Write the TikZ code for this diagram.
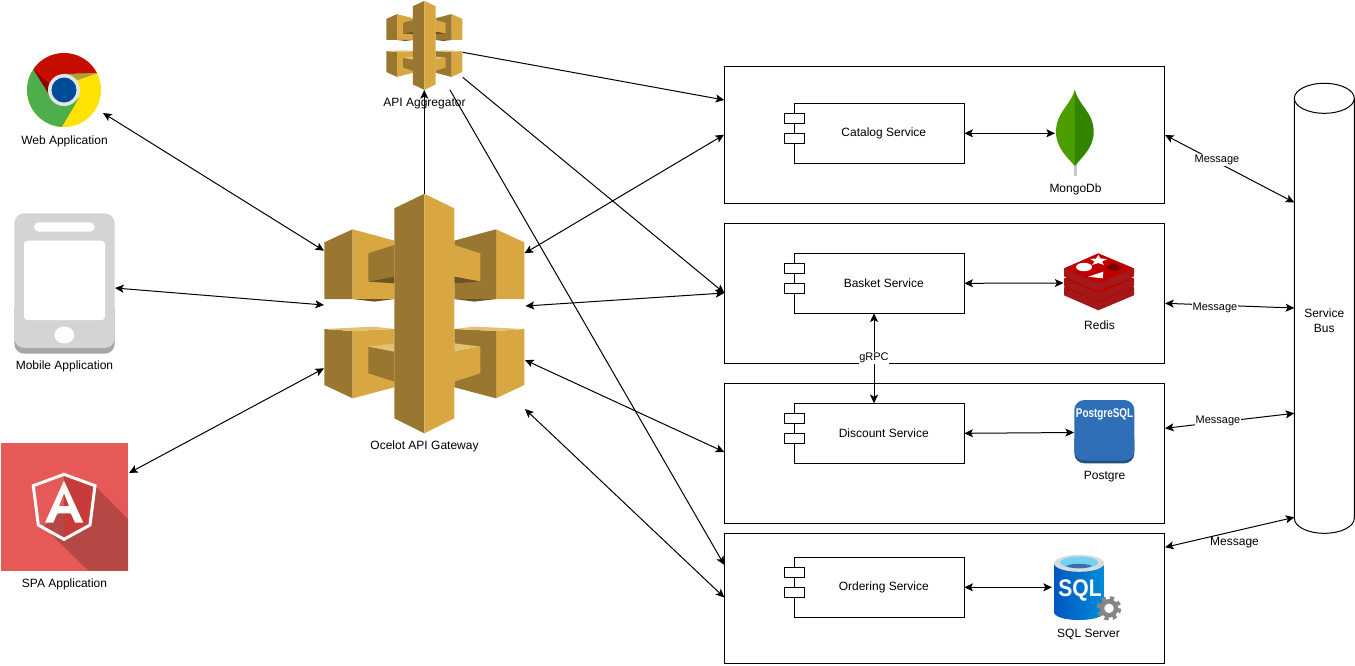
\documentclass[tikz,border=0pt]{standalone}
\usepackage{fontspec}
\setmainfont{Liberation Sans}
\usetikzlibrary{arrows.meta}
\definecolor{gwdark}{HTML}{9A7730}
\definecolor{gwlight}{HTML}{D8A741}
\definecolor{gwshadow}{HTML}{6E5323}
\definecolor{gwtop}{HTML}{E3C171}
\tikzset{
 lbl/.style={font=\fontsize{9}{10.8}\selectfont,inner sep=0pt,align=center},
 msg/.style={font=\fontsize{8.25}{9.9}\selectfont,fill=white,inner sep=.5pt},
 svcbox/.style={draw=black,line width=.75pt,minimum width=330.5pt,inner sep=0pt,outer sep=0pt},
 comp/.style={draw=black,line width=.75pt,fill=white,minimum width=127.5pt,minimum height=45pt,inner sep=0pt,outer sep=0pt,font=\fontsize{9}{10.8}\selectfont,execute at begin node=\hspace*{6.75pt}},
 port/.style={draw=black,line width=.75pt,fill=white,minimum width=15pt,minimum height=7.5pt,inner sep=0pt},
 link/.style={line width=.75pt,-{Stealth[length=6.5pt,width=6pt,inset=1.5pt]}},
 biarrow/.style={line width=.75pt,{Stealth[length=6.5pt,width=6pt,inset=1.5pt]}-{Stealth[length=6.5pt,width=6pt,inset=1.5pt]}}
}
% one half of the gateway icon: outer colour, inner colour
\newcommand{\gwhalf}[2]{
\fill[#1] (-100,-71)--(-71.7,-84)--(-71.7,-14.3)--(-100,-14.3)--cycle;
\fill[#2] (-71.7,-84)--(-30,-72.7)--(-30,-14.3)--(-71.7,-14.3)--cycle;
\fill[#1] (-56,-60)--(-30,-68.3)--(-30,-36.7)--(-56,-31.7)--cycle;
\fill[gwshadow] (-56,-31.7)--(-30,-36.7)--(-30,-30)--cycle;
\fill[gwshadow] (-71.7,-14.3)--(-50,-11.7)--(-30,-14.3)--cycle;
\fill[#1] (-100,15.7)--(-71.7,17.7)--(-71.7,85)--(-100,71.7)--cycle;
\fill[#2] (-71.7,17.7)--(-30,15.7)--(-30,74)--(-71.7,85)--cycle;
\fill[gwtop] (-100,15.7)--(-50,13.3)--(-30,15.7)--(-71.7,17.7)--cycle;
\fill[#1] (-56,33.3)--(-30,38.3)--(-30,68.3)--(-56,60)--cycle;
\fill[gwtop] (-56,33.3)--(-30,30)--(-30,38.3)--cycle;
}
% gateway icon: x, y, xscale, yscale
\newcommand{\gwicon}[4]{
\begin{scope}[shift={(#1,#2)},xscale=#3,yscale=#4]
\gwhalf{gwdark}{gwlight}
\begin{scope}[xscale=-1]
\gwhalf{gwlight}{gwdark}
\end{scope}
\fill[gwdark] (0,-119.5)--(-30,-105)--(-30,105)--(0,120)--cycle;
\fill[gwlight] (0,-119.5)--(30,-105)--(30,105)--(0,120)--cycle;
\end{scope}
}
\newcommand{\redislayer}[1]{
\fill[red!60!black!90!white] (1064,{268.3+#1})--(1064,{276.3+#1})--(1098.3,{291.3+#1})--(1134,{276.3+#1})--(1134,{268.3+#1})--cycle;
\fill[red!75!black] (1064,{268.3+#1})--(1098.3,{253.3+#1})--(1134,{268.3+#1})--(1098.3,{283.3+#1})--cycle;
}
\begin{document}
\begin{tikzpicture}[x=.75pt,y=-.75pt]
\useasboundingbox (0,0) rectangle (1355,665);
% web client
\begin{scope}
\clip (64,90) circle[radius=37];
\fill[yellow!85!orange] (20,45) rectangle (110,135);
\fill[red!75!black!90!orange] (33.3,69.3)--(20,40)--(110,40)--(96.7,73.3)--(64,74)--(48.3,93.3)--cycle;
\fill[green!55!black!70!white] (33.3,69.3)--(48.3,93.3)--(78.3,98.3)--(61.7,126.7)--(20,135)--(20,69)--cycle;
\fill[red!55!black] (33.3,69.3)--(48.3,93.3)--(50,85)--cycle;
\fill[yellow!60!black!90!orange] (64,74)--(96.7,73.3)--(78,80)--cycle;
\fill[green!45!black!80!white] (78.3,98.3)--(61.7,126.7)--(73,108)--cycle;
\end{scope}
\fill[black!10] (64,90) circle[radius=16];
\fill[blue!50!cyan!60!black] (64,90) circle[radius=12.5];
\node[lbl] (webapp) at (64.5,141.5) {Web Application};
\coordinate (webport) at (103,113);
% mobile client
\fill[black!35,rounded corners=7.5pt] (14.3,300) rectangle (114.7,353.7);
\fill[black!17,rounded corners=7.5pt] (14.3,213.3) rectangle (114.7,348);
\fill[white,rounded corners=2.5pt] (24,240.7) rectangle (105,320);
\fill[white,rounded corners=3.5pt] (34,222.3) rectangle (94.7,231.7);
\fill[white] (64.3,335) ellipse[x radius=10,y radius=8.5];
\node[lbl] (mobileapp) at (64.5,366.5) {Mobile Application};
\coordinate (mobileport) at (115,288);
% spa client
\definecolor{ngred}{HTML}{E55A56}
\definecolor{ngshade}{HTML}{B54745}
\definecolor{ngdark}{HTML}{C73B3A}
\fill[ngred] (0.7,443.3) rectangle (128,570.7);
\fill[ngshade] (95,485.7)--(128,519.3)--(128,570.7)--(88.3,570.7)--(43.3,526.7)--cycle;
\fill[ngdark] (64,474.3)--(95,485.7)--(90,525)--(64,539.3)--cycle;
\draw[white,line width=2.25pt,line join=miter] (64,474.3)--(95,485.7)--(90,525)--(64,539.3)--(38.3,525)--(33.3,485.7)--cycle;
\fill[white,even odd rule] (64,480.7)--(83.3,522.7)--(75.3,522.7)--(70.7,513.3)--(57.3,513.3)--(53.3,522.7)--(45,522.7)--cycle (64,493.3)--(69,506)--(59,506)--cycle;
\node[lbl] (spaapp) at (64.5,584.5) {SPA Application};
\coordinate (spaport) at (129,473);
% gateway and aggregator
\gwicon{424.3}{313.3}{1}{1}
\gwicon{424.3}{45.3}{.38}{.372}
\node[lbl] (gateway) at (424.5,446) {Ocelot API Gateway};
\node[lbl] (aggregator) at (424.5,104) {API Aggregator};
\coordinate (gwweb) at (324,250.7);
\coordinate (gwmobile) at (324,305);
\coordinate (gwspa) at (324,368.3);
\coordinate (gwup) at (424.3,193.5);
\coordinate (gwcatalog) at (524.5,253.3);
\coordinate (gwbasket) at (525.5,306);
\coordinate (gwdiscount) at (525,360);
\coordinate (gwordering) at (525,409);
\coordinate (aggin) at (424.3,90);
\coordinate (aggcatalog) at (462.7,52.3);
\coordinate (aggbasket) at (462.7,77.3);
\coordinate (aggordering) at (450,90);
% services
\node[svcbox,minimum height=103pt] (catalogbox) at (944.4,134.7) {};
\node[svcbox,minimum height=105pt] (basketbox) at (944.4,293.3) {};
\node[svcbox,minimum height=105pt] (discountbox) at (944.4,453.3) {};
\node[svcbox,minimum height=97.5pt] (orderingbox) at (944.4,598.3) {};
\node[comp] (catalog) at (879.3,133.3) {Catalog Service};
\node[port] (catalogpa) at (794.3,118.3) {};
\node[port] (catalogpb) at (794.3,138.3) {};
\node[comp] (basket) at (879.3,283.3) {Basket Service};
\node[port] (basketpa) at (794.3,268.3) {};
\node[port] (basketpb) at (794.3,288.3) {};
\node[comp] (discount) at (879.3,433.3) {Discount Service};
\node[port] (discountpa) at (794.3,418.3) {};
\node[port] (discountpb) at (794.3,438.3) {};
\node[comp] (ordering) at (879.3,587.3) {Ordering Service};
\node[port] (orderingpa) at (794.3,572.3) {};
\node[port] (orderingpb) at (794.3,592.3) {};
\coordinate (catalogagg) at (724.3,100);
\coordinate (catalogbus) at (1165,135);
\coordinate (basketin) at (724.3,293);
\coordinate (basketbus) at (1165,303.3);
\coordinate (discountin) at (724.3,452);
\coordinate (discountbus) at (1165,428.3);
\coordinate (orderingagg) at (724.3,565);
\coordinate (orderinggw) at (724.3,597.5);
\coordinate (orderingbus) at (1165,547.3);
\coordinate (basketrpc) at (874,313.3);
\coordinate (discountrpc) at (874,403.3);
% mongo
\fill[black!22] (1074,160) rectangle (1076.5,176);
\fill[green!45!black!70!yellow] (1074.8,89.5) .. controls (1071,105) and (1056,112) .. (1056,132) .. controls (1056,148) and (1068,158) .. (1074.8,166) -- cycle;
\fill[green!40!black!80!yellow] (1074.8,89.5) .. controls (1078,105) and (1093.7,112) .. (1093.7,132) .. controls (1093.7,148) and (1081,158) .. (1074.8,166) -- cycle;
\node[lbl] (mongolbl) at (1075.5,189.5) {MongoDb};
\coordinate (mongo) at (1055,133.3);
% redis
\redislayer{19}
\redislayer{10}
\redislayer{0}
\fill[white] (1084,267) ellipse[x radius=8,y radius=4.2];
\fill[white] (1098.3,255)--(1100.5,258.5)--(1107,259)--(1102,261.5)--(1104,265)--(1098.3,263)--(1092,265)--(1094.5,261.5)--(1090,259)--(1096,258.5)--cycle;
\fill[white] (1088.3,276.7)--(1103.3,271.7)--(1102.7,278.3)--cycle;
\fill[red!50!black] (1105,267.3)--(1114,263.3)--(1123.3,267.3)--(1114,271.7)--cycle;
\node[lbl] (redislbl) at (1099.5,325.5) {Redis};
\coordinate (redis) at (1063.5,283);
% postgres
\definecolor{pgblue}{HTML}{2F6FB7}
\definecolor{pgdark}{HTML}{23507F}
\fill[pgdark,rounded corners=7.5pt] (1074.3,430) rectangle (1134.3,463.3);
\fill[pgblue,rounded corners=7.5pt] (1074.3,400) rectangle (1134.3,460.5);
\node[text=white,font=\fontsize{9.5}{11}\bfseries\selectfont,inner sep=0pt] (pgtext) at (1104.5,414.5) {\scalebox{.78}[1]{PostgreSQL}};
\node[lbl] (pglbl) at (1104.5,476.5) {Postgre};
\coordinate (postgres) at (1074,432.5);
% sql server
\shade[left color=blue!55!cyan!75!black,right color=blue!35!cyan!85!black] (1054,563.3)--(1054,612) .. controls (1054,617) and (1066,620) .. (1079,620) .. controls (1092,620) and (1104.3,617) .. (1104.3,612)--(1104.3,563.3)--cycle;
\fill[black!14] (1079.1,563.3) ellipse[x radius=25.1,y radius=8.5];
\fill[cyan!55!white] (1079.1,562.5) ellipse[x radius=19,y radius=6];
\fill[cyan!60!blue!75!black] (1066,566) .. controls (1072,563) and (1086,563) .. (1092,566) .. controls (1086,569) and (1072,569) .. (1066,566) -- cycle;
\node[text=white,font=\fontsize{18}{20}\bfseries\selectfont,inner sep=0pt] (sqltext) at (1080,590) {\scalebox{.88}[1]{SQL}};
\draw[black!48,line width=3.4pt,dash pattern=on 3pt off 2.95pt] (1109,608.3) circle[radius=10];
\draw[black!48,line width=3.4pt,fill=white] (1109,608.3) circle[radius=7];
\node[lbl] (sqllbl) at (1088.5,634.5) {SQL Server};
\coordinate (sqlserver) at (1052,587.3);
% bus
\draw[line width=.75pt] (1294.3,98.3)--(1294.3,518.3) .. controls (1294.3,526.6) and (1307.7,533.3) .. (1324.3,533.3) .. controls (1341,533.3) and (1354.3,526.6) .. (1354.3,518.3)--(1354.3,98.3);
\draw[line width=.75pt] (1324.3,98.3) ellipse[x radius=30,y radius=15];
\node[lbl,font=\fontsize{9}{11.25}\selectfont] (bus) at (1324.3,321) {Service\\Bus};
\coordinate (buscatalog) at (1294.3,202.5);
\coordinate (busbasket) at (1294.3,308);
\coordinate (busdiscount) at (1294.3,413.3);
\coordinate (busordering) at (1294.3,517.3);
% connectors
\draw[biarrow] (webport)--(gwweb);
\draw[biarrow] (mobileport)--(gwmobile);
\draw[biarrow] (spaport)--(gwspa);
\draw[link] (gwup)--(aggin);
\draw[link] (aggcatalog)--(catalogagg);
\draw[link] (aggbasket)--(basketin);
\draw[link] (aggordering)--(orderingagg);
\draw[biarrow] (gwcatalog)--(catalogbox.west);
\draw[biarrow] (gwbasket)--(basketin);
\draw[biarrow] (gwdiscount)--(discountin);
\draw[biarrow] (gwordering)--(orderinggw);
\draw[biarrow] (catalog.east)--(mongo);
\draw[biarrow] (basket.east)--(redis);
\draw[biarrow] (discount.east)--(postgres);
\draw[biarrow] (ordering.east)--(sqlserver);
\draw[biarrow] (basketrpc)--(discountrpc);
\node[msg] (rpclbl) at (874,358) {gRPC};
\draw[biarrow] (catalogbus)--(buscatalog);
\node[msg] (msgcatalog) at (1217,160) {Message};
\draw[biarrow] (basketbus)--(busbasket);
\node[msg] (msgbasket) at (1215,308) {Message};
\draw[biarrow] (discountbus)--(busdiscount);
\node[msg] (msgdiscount) at (1218,421) {Message};
\draw[biarrow] (orderingbus)--(busordering);
\node[lbl] (msgordering) at (1234.5,543) {Message};
\end{tikzpicture}
\end{document}
